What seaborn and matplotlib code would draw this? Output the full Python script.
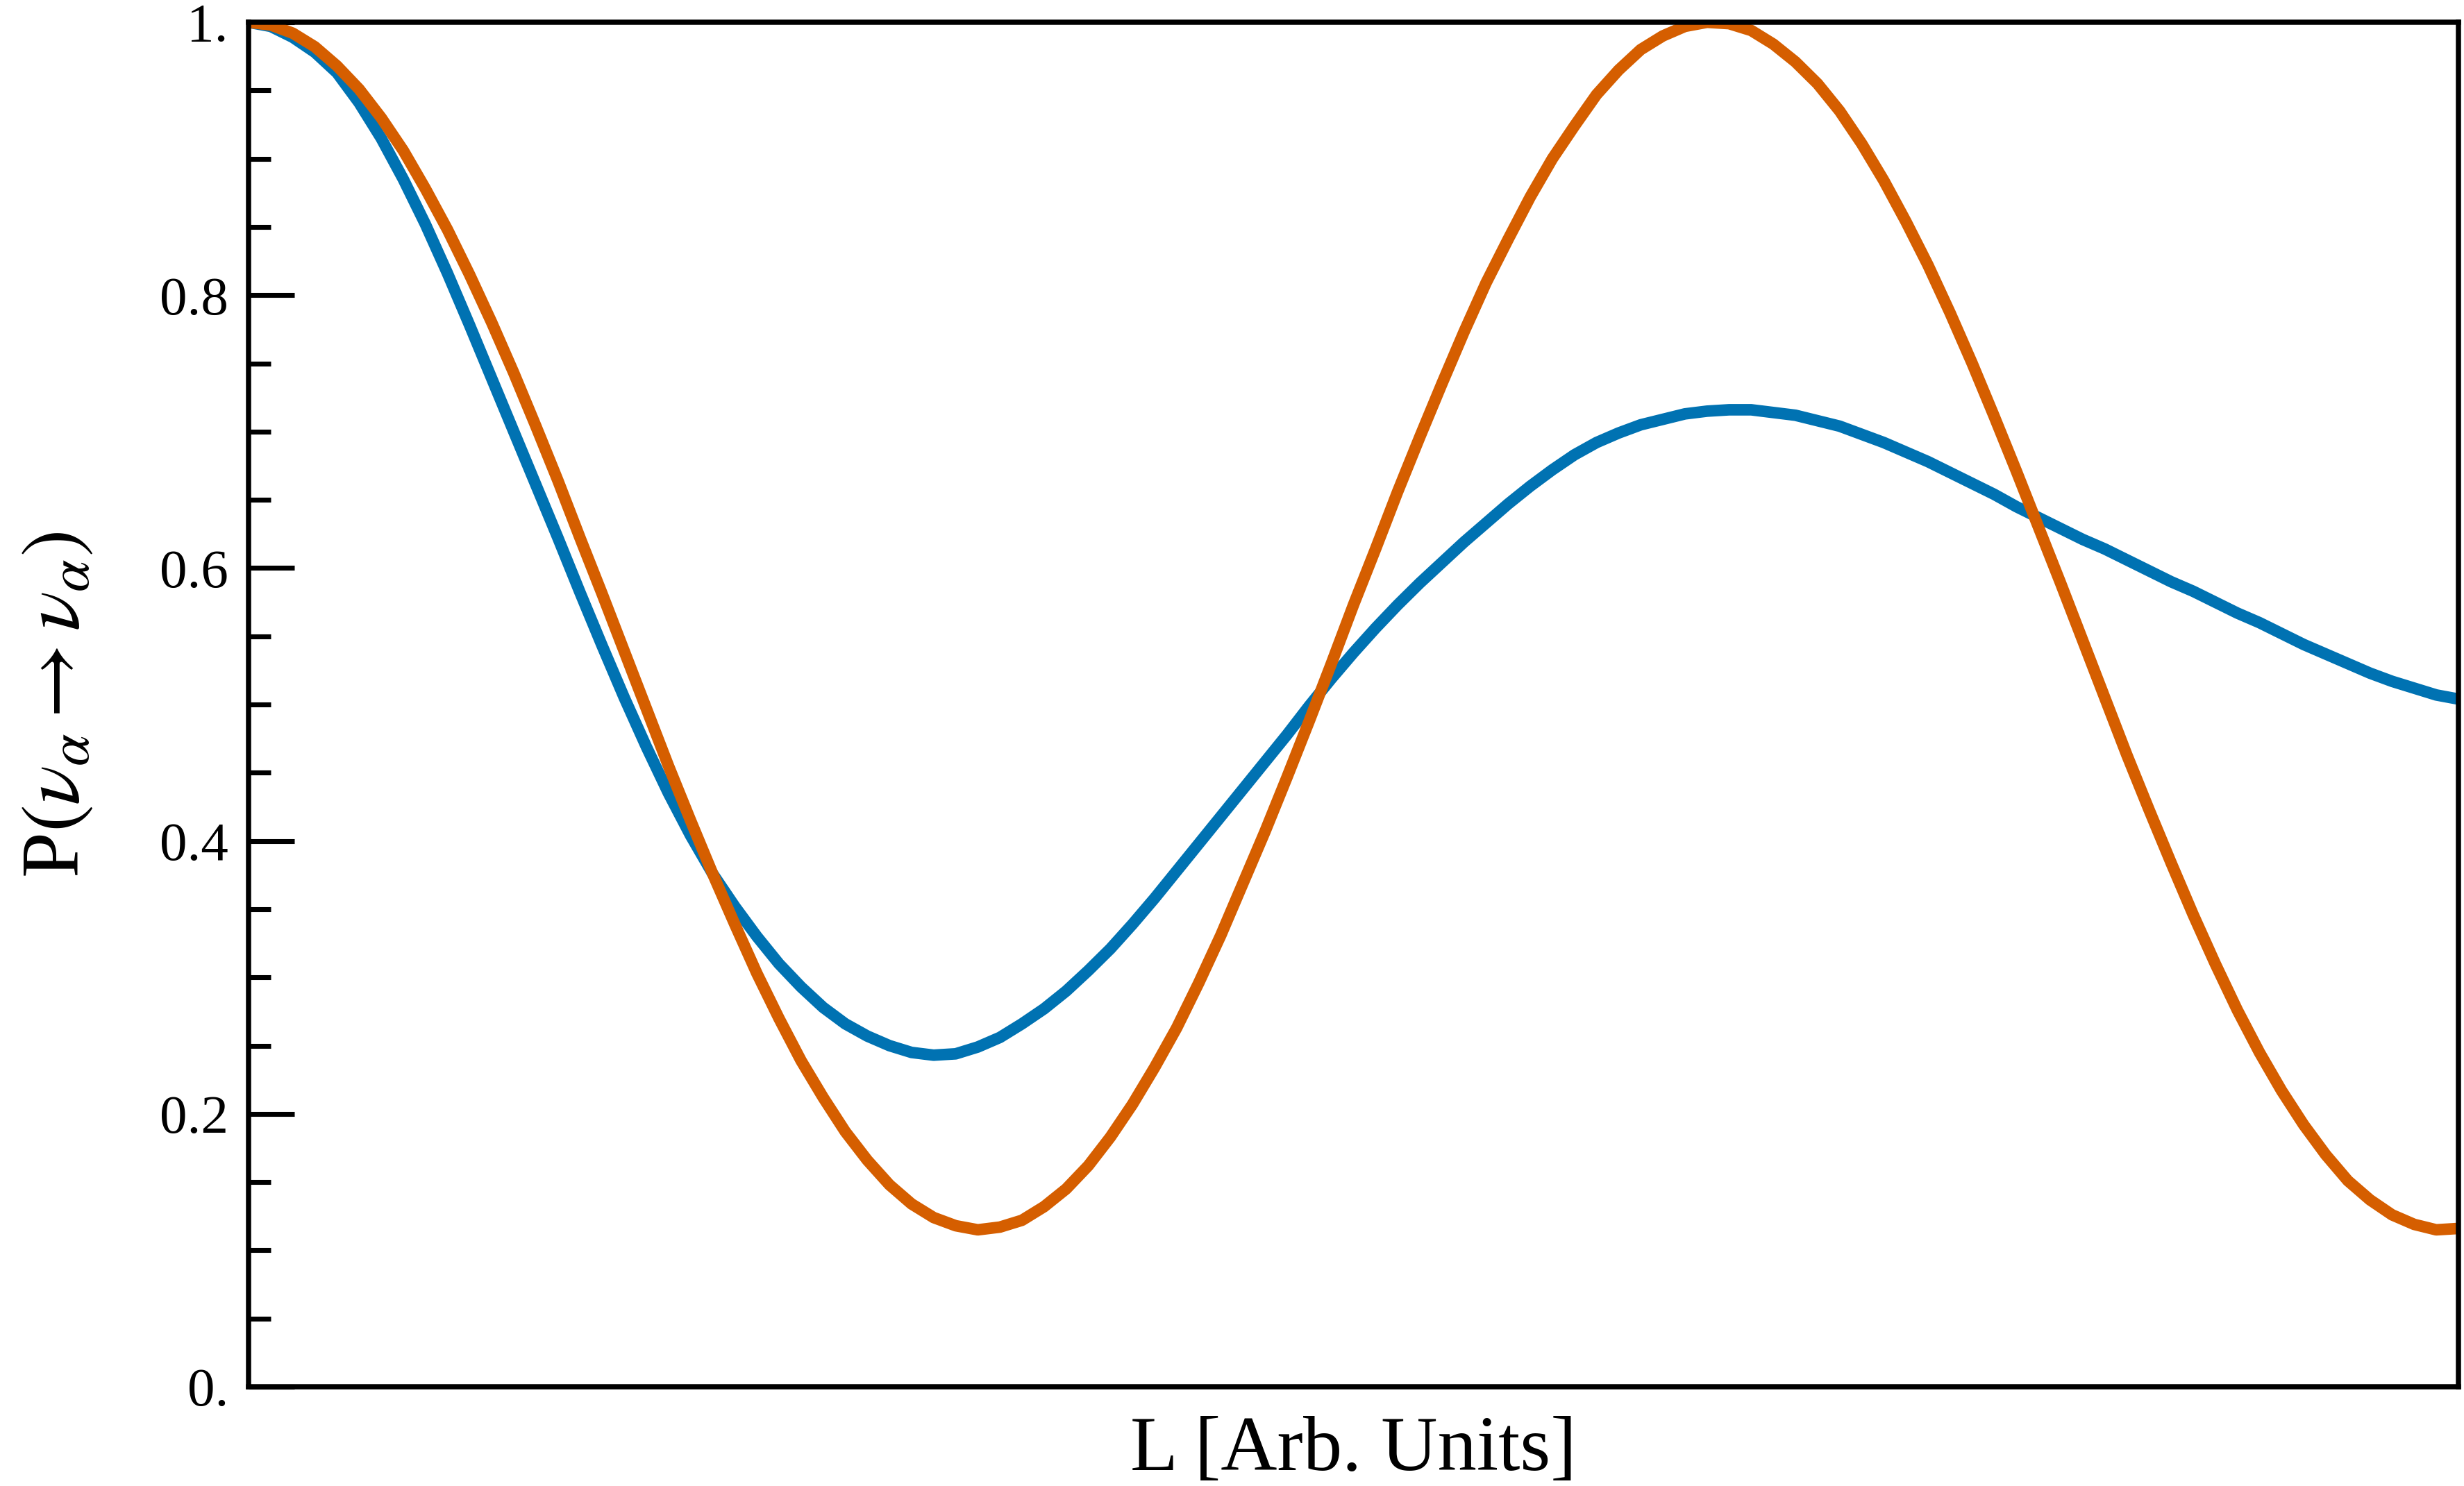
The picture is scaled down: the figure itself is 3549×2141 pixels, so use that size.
import pandas as pd
import seaborn as sns
import matplotlib.pyplot as plt
from matplotlib.ticker import FixedLocator, FixedFormatter

# baseline L, arbitrary units (frame runs 0 .. 1)
L = [0.00, 0.01, 0.02, 0.03, 0.04, 0.05, 0.06, 0.07, 0.08, 0.09,
     0.10, 0.11, 0.12, 0.13, 0.14, 0.15, 0.16, 0.17, 0.18, 0.19,
     0.20, 0.21, 0.22, 0.23, 0.24, 0.25, 0.26, 0.27, 0.28, 0.29,
     0.30, 0.31, 0.32, 0.33, 0.34, 0.35, 0.36, 0.37, 0.38, 0.39,
     0.40, 0.41, 0.42, 0.43, 0.44, 0.45, 0.46, 0.47, 0.48, 0.49,
     0.50, 0.51, 0.52, 0.53, 0.54, 0.55, 0.56, 0.57, 0.58, 0.59,
     0.60, 0.61, 0.62, 0.63, 0.64, 0.65, 0.66, 0.67, 0.68, 0.69,
     0.70, 0.71, 0.72, 0.73, 0.74, 0.75, 0.76, 0.77, 0.78, 0.79,
     0.80, 0.81, 0.82, 0.83, 0.84, 0.85, 0.86, 0.87, 0.88, 0.89,
     0.90, 0.91, 0.92, 0.93, 0.94, 0.95, 0.96, 0.97, 0.98, 0.99, 1.00]

# damped (blue) survival probability
P_damped = [1.000, 0.997, 0.989, 0.978, 0.963, 0.941, 0.915, 0.885, 0.852, 0.816,
            0.778, 0.739, 0.700, 0.661, 0.622, 0.582, 0.543, 0.505, 0.469, 0.435,
            0.404, 0.376, 0.352, 0.330, 0.310, 0.293, 0.278, 0.266, 0.257, 0.250,
            0.245, 0.243, 0.244, 0.249, 0.256, 0.266, 0.277, 0.290, 0.305, 0.321,
            0.339, 0.358, 0.378, 0.398, 0.418, 0.438, 0.458, 0.478, 0.499, 0.519,
            0.538, 0.556, 0.573, 0.589, 0.604, 0.619, 0.633, 0.647, 0.660, 0.672,
            0.683, 0.692, 0.699, 0.705, 0.709, 0.713, 0.715, 0.716, 0.716, 0.714,
            0.712, 0.708, 0.704, 0.698, 0.692, 0.685, 0.678, 0.670, 0.662, 0.654,
            0.645, 0.637, 0.629, 0.621, 0.614, 0.606, 0.598, 0.590, 0.583, 0.575,
            0.567, 0.560, 0.552, 0.544, 0.537, 0.530, 0.523, 0.517, 0.512, 0.507, 0.504]

# plane wave (orange) survival probability
P_plane = [1.000, 0.998, 0.992, 0.982, 0.968, 0.951, 0.930, 0.906, 0.878, 0.848,
           0.815, 0.780, 0.743, 0.704, 0.664, 0.622, 0.581, 0.539, 0.497, 0.455,
           0.415, 0.376, 0.339, 0.303, 0.270, 0.239, 0.212, 0.187, 0.166, 0.148,
           0.134, 0.124, 0.118, 0.115, 0.117, 0.122, 0.132, 0.145, 0.162, 0.183,
           0.207, 0.234, 0.263, 0.296, 0.331, 0.369, 0.407, 0.447, 0.488, 0.530,
           0.573, 0.614, 0.656, 0.696, 0.735, 0.773, 0.809, 0.841, 0.872, 0.900,
           0.924, 0.947, 0.965, 0.980, 0.990, 0.997, 1.000, 0.999, 0.994, 0.984,
           0.971, 0.955, 0.935, 0.911, 0.884, 0.854, 0.822, 0.787, 0.750, 0.711,
           0.671, 0.630, 0.589, 0.547, 0.505, 0.463, 0.423, 0.384, 0.346, 0.310,
           0.276, 0.245, 0.217, 0.192, 0.170, 0.151, 0.137, 0.126, 0.119, 0.115, 0.116]

curve_names = ['damped', 'plane wave']
curve_colors = ['#0072B2', '#D55E00']

ytick_vals = [0.0, 0.2, 0.4, 0.6, 0.8, 1.0]
ytick_text = ['0.', '0.2', '0.4', '0.6', '0.8', '1.']
yminor_vals = [0.05, 0.1, 0.15, 0.25, 0.3, 0.35, 0.45, 0.5, 0.55,
               0.65, 0.7, 0.75, 0.85, 0.9, 0.95]

df = pd.DataFrame({
    'L': L + L,
    'P': P_damped + P_plane,
    'curve': [curve_names[0]] * len(L) + [curve_names[1]] * len(L),
})

sns.set_style('ticks')
plt.rcParams['font.family'] = ['Liberation Serif', 'DejaVu Serif']
plt.rcParams['mathtext.fontset'] = 'stix'
plt.rcParams['text.color'] = 'black'
plt.rcParams['axes.labelcolor'] = 'black'

fig, ax = plt.subplots(figsize=(3549 / 300, 2141 / 300), dpi=300)
fig.subplots_adjust(left=0.1009, right=0.9977, top=0.985, bottom=0.0668)

sns.lineplot(data=df, x='L', y='P', hue='curve', hue_order=curve_names,
             palette=curve_colors, linewidth=4.0, estimator=None,
             legend=False, ax=ax)

ax.set_xlim(0, 1)
ax.set_ylim(0, 1)
ax.set_xticks([])
ax.yaxis.set_major_locator(FixedLocator(ytick_vals))
ax.yaxis.set_major_formatter(FixedFormatter(ytick_text))
ax.yaxis.set_minor_locator(FixedLocator(yminor_vals))
ax.tick_params(axis='y', which='major', direction='in', length=15.8, width=1.7,
               labelsize=19, pad=7, colors='black')
ax.tick_params(axis='y', which='minor', direction='in', length=7.7, width=1.7,
               colors='black')
ax.tick_params(axis='x', which='both', bottom=False, top=False)

for sp in ax.spines.values():
    sp.set_visible(True)
    sp.set_linewidth(1.8)
    sp.set_color('black')

ax.set_xlabel('L [Arb. Units]', fontsize=27, labelpad=10)
ax.set_ylabel(r'P$(\nu_\alpha \rightarrow \nu_\alpha)$', fontsize=28.5, labelpad=22)

fig.savefig('out.png', dpi=300)
